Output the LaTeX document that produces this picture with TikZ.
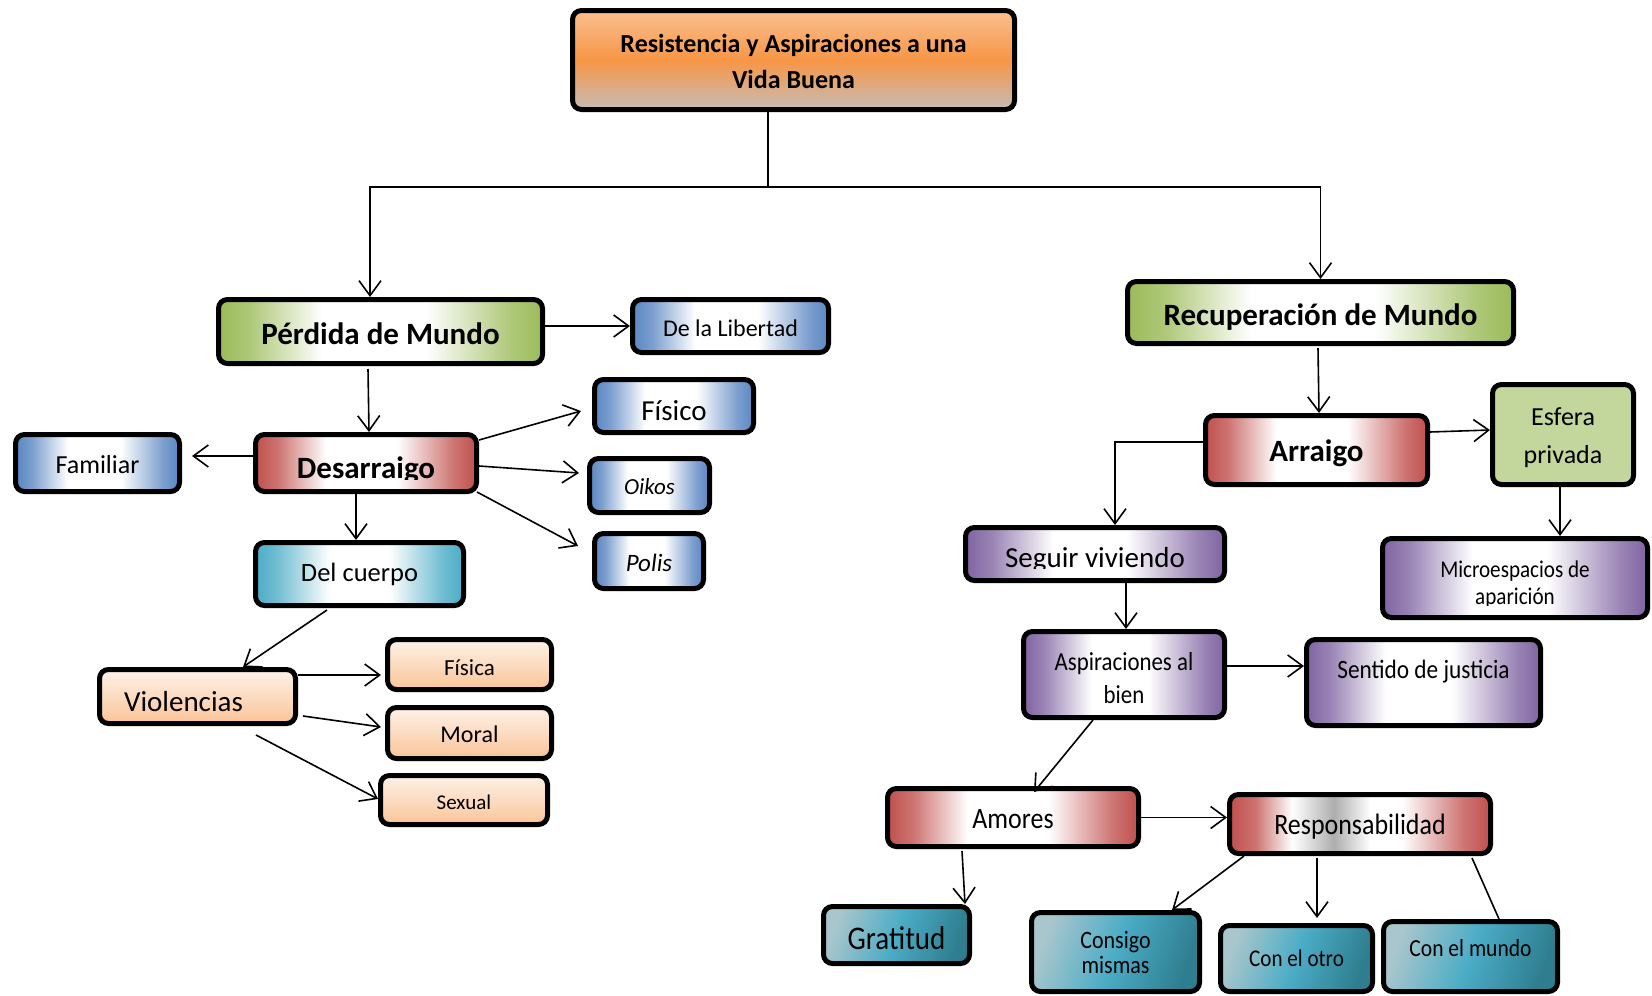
\documentclass[tikz,border=0pt]{standalone}
\usepackage{fontspec}
\setmainfont{Carlito}
\newfontfamily\condf{Carlito}[FakeStretch=0.88]
\usetikzlibrary{arrows.meta}
\definecolor{cgreen}{HTML}{9BBB59}
\definecolor{cblue}{HTML}{5A86C2}
\definecolor{cred}{HTML}{C0504D}
\definecolor{ccyan}{HTML}{4BACC6}
\definecolor{cpurple}{HTML}{8064A2}
\definecolor{otop}{HTML}{FAC090}
\definecolor{omid}{HTML}{F79646}
\definecolor{obot}{HTML}{C6BCB5}
\definecolor{ptop}{HTML}{FEF2E9}
\definecolor{pbot}{HTML}{FAC498}
\definecolor{esf}{HTML}{C3D69B}
\definecolor{tealL}{HTML}{A9C6CC}
\definecolor{tealM}{HTML}{4BACC6}
\definecolor{tealR}{HTML}{2F7E8F}
\colorlet{cgreenl}{cgreen!80}
\colorlet{cbluel}{cblue!80}
\colorlet{credl}{cred!80}
\colorlet{ccyanl}{ccyan!80}
\colorlet{cpurplel}{cpurple!80}
\colorlet{cgrayc}{black!32}
\pgfdeclarehorizontalshading{hgreen}{100bp}{color(0bp)=(cgreen); color(25bp)=(cgreen); color(30bp)=(cgreenl); color(41bp)=(white); color(57bp)=(white); color(70bp)=(cgreenl); color(75bp)=(cgreen); color(100bp)=(cgreen)}
\pgfdeclarehorizontalshading{hblue}{100bp}{color(0bp)=(cblue); color(25bp)=(cblue); color(30bp)=(cbluel); color(41bp)=(white); color(57bp)=(white); color(70bp)=(cbluel); color(75bp)=(cblue); color(100bp)=(cblue)}
\pgfdeclarehorizontalshading{hred}{100bp}{color(0bp)=(cred); color(25bp)=(cred); color(30bp)=(credl); color(41bp)=(white); color(57bp)=(white); color(70bp)=(credl); color(75bp)=(cred); color(100bp)=(cred)}
\pgfdeclarehorizontalshading{hcyan}{100bp}{color(0bp)=(ccyan); color(25bp)=(ccyan); color(30bp)=(ccyanl); color(43bp)=(white); color(57bp)=(white); color(70bp)=(ccyanl); color(75bp)=(ccyan); color(100bp)=(ccyan)}
\pgfdeclarehorizontalshading{hpurple}{100bp}{color(0bp)=(cpurple); color(25bp)=(cpurple); color(30bp)=(cpurplel); color(42bp)=(white); color(56bp)=(white); color(70bp)=(cpurplel); color(75bp)=(cpurple); color(100bp)=(cpurple)}
\pgfdeclarehorizontalshading{hresp}{100bp}{color(0bp)=(cred); color(25bp)=(cred); color(30bp)=(credl); color(37bp)=(white); color(45bp)=(cgrayc); color(52bp)=(white); color(58bp)=(white); color(70bp)=(credl); color(75bp)=(cred); color(100bp)=(cred)}
\newcommand\fsz[2]{\fontsize{#1}{#2}\selectfont}
\begin{document}
\begin{tikzpicture}[x=1pt,y=-1pt,
  box/.style={draw=black, line width=5pt, rounded corners=9pt, inner sep=0pt, align=center},
  green/.style={shade, shading=hgreen},
  blue/.style={shade, shading=hblue},
  red/.style={shade, shading=hred},
  cyan/.style={shade, shading=hcyan},
  purple/.style={shade, shading=hpurple},
  resp/.style={shade, shading=hresp},
  peach/.style={top color=ptop, bottom color=pbot},
  orange/.style={top color=otop, bottom color=obot, middle color=omid},
  teal/.style={left color=tealL, right color=tealR, middle color=tealM, shading angle=70},
  arr/.style={-{Straight Barb[length=15pt,width=22pt]}, line width=1.6pt},
  ln/.style={line width=1.6pt},
  every label/.style={align=center, inner sep=0pt}
]
\fill[white] (0,0) rectangle (1652,996);
\useasboundingbox (0,0) rectangle (1652,996);

% top
\node[box, orange, minimum width=442pt, minimum height=99pt,
  label={[font=\fsz{26}{36}\bfseries, yshift=-1.5pt]center:Resistencia y Aspiraciones a una\\Vida Buena}] (top) at (793.5,60) {};

% left branch
\node[box, green, minimum width=324pt, minimum height=64pt,
  label={[font=\fsz{31}{36}\bfseries, yshift=-2pt]center:Pérdida de Mundo}] (perdida) at (380.5,331.5) {};
\node[box, blue, minimum width=196pt, minimum height=53pt,
  label={[font=\fsz{24}{28}, yshift=-2pt]center:De la Libertad}] (libertad) at (730.5,326) {};
\node[box, red, minimum width=221pt, minimum height=57pt,
  path picture={
    \clip (path picture bounding box.north west) rectangle ([yshift=-16.5pt]path picture bounding box.east);
    \node[anchor=base, inner sep=0pt, font=\fsz{31}{36}\bfseries] at ([yshift=-15pt]path picture bounding box.center) {Desarraigo};
  }] (desarraigo) at (366,463) {};
\node[box, blue, minimum width=164pt, minimum height=57pt,
  label={[font=\fsz{26}{30}, yshift=-2pt]center:Familiar}] (familiar) at (97.5,463) {};
\node[box, blue, minimum width=159pt, minimum height=53pt,
  label={[font=\fsz{29}{34}, yshift=-5pt]center:Físico}] (fisico) at (674,406) {};
\node[box, blue, minimum width=120pt, minimum height=54pt,
  label={[font=\fsz{23}{28}\itshape, yshift=-1.5pt]center:Oikos}] (oikos) at (649.5,485.5) {};
\node[box, blue, minimum width=109pt, minimum height=55pt,
  label={[font=\fsz{25}{30}\itshape, yshift=-2pt]center:Polis}] (polis) at (649,561) {};
\node[box, cyan, minimum width=208pt, minimum height=63pt,
  label={[font=\fsz{26.5}{30}]center:Del cuerpo}] (cuerpo) at (359.5,574) {};
\node[box, peach, minimum width=196pt, minimum height=54pt,
  label={[font=\fsz{29}{34}, xshift=-14pt, yshift=-5pt]center:Violencias}] (violencias) at (197.5,696.5) {};
\node[box, peach, minimum width=164pt, minimum height=50pt,
  label={[font=\fsz{23}{28}, yshift=-3pt]center:Física}] (fisica) at (469.5,664.5) {};
\node[box, peach, minimum width=164pt, minimum height=51pt,
  label={[font=\fsz{24}{28}, yshift=-1.5pt]center:Moral}] (moral) at (469.5,733) {};
\node[box, peach, minimum width=167pt, minimum height=49pt,
  label={[font=\fsz{21}{26}, yshift=-2pt]center:Sexual}] (sexual) at (464,800) {};

% right branch
\node[box, green, minimum width=386pt, minimum height=62pt,
  label={[font=\fsz{31}{36}\bfseries, yshift=-5pt]center:Recuperación de Mundo}] (recup) at (1320.5,312.5) {};
\node[box, red, minimum width=222pt, minimum height=69pt,
  label={[font=\fsz{31}{36}\bfseries, yshift=-3pt]center:Arraigo}] (arraigo) at (1316.5,450) {};
\node[box, fill=esf, minimum width=141pt, minimum height=100pt,
  label={[font=\fsz{26}{38}, yshift=-3pt]center:Esfera\\privada}] (esfera) at (1563,434.5) {};
\node[box, purple, minimum width=259pt, minimum height=53pt,
  path picture={
    \clip (path picture bounding box.north west) rectangle ([yshift=-14.5pt]path picture bounding box.east);
    \node[anchor=base, inner sep=0pt, font=\fsz{29}{34}] at ([yshift=-13pt]path picture bounding box.center) {Seguir viviendo};
  }] (seguir) at (1095,554) {};
\node[box, purple, minimum width=265pt, minimum height=79pt,
  path picture={
    \clip (path picture bounding box.north west) rectangle ([yshift=-27.5pt]path picture bounding box.east);
    \node[anchor=base, inner sep=0pt, font=\condf\fsz{24}{29}] at ([yshift=1pt]path picture bounding box.center) {Microespacios de};
    \node[anchor=base, inner sep=0pt, font=\condf\fsz{24}{29}] at ([yshift=-26pt]path picture bounding box.center) {aparición};
  }] (micro) at (1515,578) {};
\node[box, purple, minimum width=201pt, minimum height=86pt,
  label={[font=\condf\fsz{26}{33}, yshift=-3.5pt]center:Aspiraciones al\\bien}] (aspir) at (1124,674.5) {};
\node[box, purple, minimum width=234pt, minimum height=86pt,
  label={[font=\condf\fsz{26.5}{32}, yshift=11pt]center:Sentido de justicia}] (sentido) at (1423.5,682.5) {};
\node[box, red, minimum width=251pt, minimum height=58pt,
  label={[font=\condf\fsz{29.5}{34}, yshift=-2pt]center:Amores}] (amores) at (1013,817.5) {};
\node[box, resp, minimum width=261pt, minimum height=59pt,
  label={[font=\condf\fsz{29.5}{34}, yshift=-3pt]center:Responsabilidad}] (resp) at (1360,824) {};
\node[box, teal, minimum width=146pt, minimum height=57pt,
  label={[font=\condf\fsz{33}{38}, yshift=-3pt]center:Gratitud}] (gratitud) at (896.5,935) {};
\node[box, teal, minimum width=168pt, minimum height=79pt,
  label={[font=\condf\fsz{25}{25}]center:Consigo\\mismas}] (consigo) at (1115.5,952) {};
\node[box, teal, minimum width=152pt, minimum height=66pt,
  label={[font=\condf\fsz{24}{28}]center:Con el otro}] (conotro) at (1296.5,958.5) {};
\node[box, teal, minimum width=174pt, minimum height=70pt,
  label={[font=\condf\fsz{24.5}{28}, yshift=8pt]center:Con el mundo}] (conmundo) at (1470.5,956.5) {};

% connectors
\coordinate (tj) at (768,187);
\draw[ln] ([xshift=-25.5pt]top.south) -- (tj);
\draw[arr] (tj) -| ([xshift=-10.5pt]perdida.north);
\draw[arr] (tj) -| (recup.north);

\draw[arr] ([yshift=5.5pt]perdida.east) -- (libertad.west);
\draw[arr] ([xshift=-12.5pt,yshift=-3pt]perdida.south) -- ([xshift=3pt]desarraigo.north);
\draw[arr] ([yshift=7pt]desarraigo.west) -- ([xshift=10pt,yshift=7pt]familiar.east);
\draw[arr] ([yshift=-8pt]desarraigo.north east) -- ([xshift=-11pt,yshift=-5pt]fisico.west);
\draw[arr] ([yshift=-3pt]desarraigo.east) -- ([xshift=-8pt,yshift=12.5pt]oikos.west);
\draw[arr] ([xshift=-2pt,yshift=2pt]desarraigo.south east) -- ([xshift=-14pt,yshift=15pt]polis.west);
\draw[arr] ([xshift=-10pt]desarraigo.south) -- ([xshift=-3.5pt]cuerpo.north);
\draw[arr] ([xshift=-32.5pt,yshift=-2pt]cuerpo.south) -- ([xshift=45.5pt]violencias.north);
\draw[arr] ([yshift=21.5pt]violencias.east) -- ([xshift=-4pt,yshift=-10.5pt]fisica.west);
\draw[arr] ([xshift=5pt,yshift=-19.5pt]violencias.east) -- ([xshift=-4pt,yshift=6pt]moral.west);
\draw[arr] ([xshift=58.5pt,yshift=-9pt]violencias.south) -- ([yshift=1pt]sexual.west);

\draw[arr] ([xshift=-2.5pt,yshift=-2pt]recup.south) -- ([xshift=2.5pt]arraigo.north);
\draw[arr] ([yshift=18pt]arraigo.east) -- ([yshift=4.5pt]esfera.west);
\draw[arr] ([yshift=8pt]arraigo.west) -| ([xshift=20pt]seguir.north);
\draw[arr] ([xshift=-3pt]esfera.south) -- ([xshift=45pt]micro.north);
\draw[arr] ([xshift=31pt]seguir.south) -- ([xshift=2pt]aspir.north);
\draw[arr] ([yshift=8.5pt]aspir.east) -- ([yshift=16.5pt]sentido.west);
\draw[arr] ([xshift=-31pt]aspir.south) -- ([xshift=21pt,yshift=-6pt]amores.north);
\draw[arr] (amores.east) -- ([yshift=6.5pt]resp.west);
\draw[arr] ([xshift=-51pt,yshift=-2pt]amores.south) -- ([xshift=68.5pt]gratitud.north);
\draw[arr] ([xshift=-116pt]resp.south) -- ([xshift=56.5pt]consigo.north);
\draw[arr] ([xshift=-43pt,yshift=-2pt]resp.south) -- ([xshift=20.5pt,yshift=5pt]conotro.north);
\draw[ln] ([xshift=112pt,yshift=-2pt]resp.south) -- ([xshift=28.5pt]conmundo.north);
\end{tikzpicture}
\end{document}
